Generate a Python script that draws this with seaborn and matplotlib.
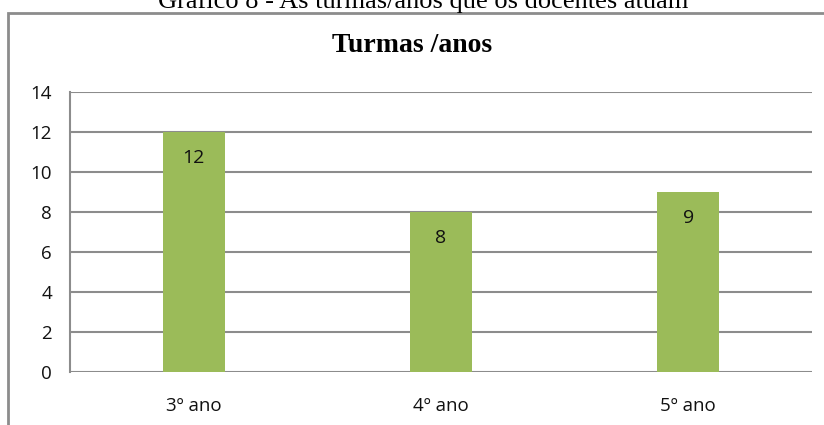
import matplotlib
matplotlib.use("Agg")
from matplotlib import pyplot as plt
from matplotlib.patches import Rectangle
import pandas as pd
import seaborn as sns

# === Data ===
turmas = ["3º ano", "4º ano", "5º ano"]
docentes = [12, 8, 9]

df = pd.DataFrame({"turma": turmas, "docentes": docentes})

sns.set_theme(style="white")
plt.rcParams['font.family'] = ['Open Sans', 'DejaVu Sans']

fig = plt.figure(figsize=(8.24, 4.25), dpi=100)
ax = fig.add_axes([0.085, 0.1247, 0.9004, 0.6588])

sns.barplot(data=df, x="turma", y="docentes", color="#9BBB59",
            width=0.25, saturation=1, linewidth=0, ax=ax)

for i, v in enumerate(docentes):
    ax.annotate(str(v), (i, v), xytext=(0, -19), textcoords="offset points",
                ha="center", va="center", fontsize=14, color="#111111")

ax.set_ylim(0, 14)
ax.set_yticks(range(0, 15, 2))
ax.set_xlim(-0.5, 2.5)
ax.yaxis.grid(True, color="#8c8c8c", linewidth=1.5)
ax.set_axisbelow(True)
for s in ["top", "right", "bottom"]:
    ax.spines[s].set_visible(False)
ax.spines["left"].set_color("#8c8c8c")
ax.spines["left"].set_linewidth(1.5)
ax.tick_params(axis="both", length=0, labelsize=13.5, colors="#111111")
ax.tick_params(axis="y", pad=13)
ax.tick_params(axis="x", pad=18)
ax.set_xlabel("")
ax.set_ylabel("")

# chart title
fig.text(0.5, 1 - 46 / 425, "Turmas /anos", ha="center", va="center",
         fontsize=20, fontweight="bold", color="black",
         family=["Liberation Serif"])

# caption above the frame (cut off at the top, as in the source)
fig.text(423 / 824, 1 - 8 / 425, "Gráfico 8 - As turmas/anos que os docentes atuam",
         ha="center", va="baseline", fontsize=19, color="black",
         family=["Liberation Serif"])

# outer frame
fig.patches.append(Rectangle((8 / 824, -0.1), 1.2, 1.1 - 13 / 425,
                             transform=fig.transFigure, fill=False,
                             edgecolor="#8c8c8c", linewidth=2))

fig.savefig("out.png", dpi=100)
